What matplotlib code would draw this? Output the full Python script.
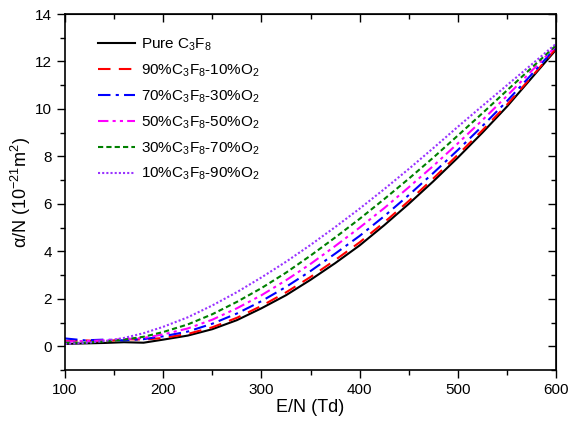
import numpy as np
import matplotlib.pyplot as plt

plt.rcParams['font.family'] = ['Liberation Sans', 'DejaVu Sans']
plt.rcParams['mathtext.default'] = 'regular'

en_td = [100, 120, 140, 160, 180, 200, 225, 250, 275, 300, 325, 350,
         375, 400, 425, 450, 475, 500, 525, 550, 575, 600]

pure = [0.10, 0.12, 0.14, 0.17, 0.15, 0.28, 0.45, 0.72, 1.10, 1.60, 2.15, 2.80,
        3.50, 4.25, 5.10, 6.00, 6.95, 7.95, 9.00, 10.10, 11.30, 12.50]
mix90 = [0.22, 0.25, 0.20, 0.30, 0.28, 0.35, 0.52, 0.80, 1.20, 1.70, 2.27, 2.92,
         3.63, 4.38, 5.22, 6.12, 7.07, 8.07, 9.10, 10.18, 11.35, 12.55]
mix70 = [0.33, 0.25, 0.28, 0.25, 0.30, 0.42, 0.62, 0.95, 1.38, 1.90, 2.50, 3.17,
         3.90, 4.65, 5.48, 6.37, 7.30, 8.27, 9.28, 10.33, 11.45, 12.60]
mix50 = [0.20, 0.22, 0.25, 0.30, 0.35, 0.50, 0.75, 1.12, 1.60, 2.15, 2.78, 3.47,
         4.22, 5.00, 5.82, 6.70, 7.60, 8.55, 9.53, 10.55, 11.60, 12.65]
mix30 = [0.15, 0.15, 0.20, 0.28, 0.40, 0.60, 0.92, 1.35, 1.87, 2.45, 3.10, 3.82,
         4.58, 5.37, 6.20, 7.06, 7.95, 8.88, 9.82, 10.78, 11.73, 12.68]
mix10 = [0.10, 0.14, 0.22, 0.35, 0.55, 0.82, 1.22, 1.72, 2.28, 2.90, 3.56, 4.27,
         5.02, 5.80, 6.62, 7.47, 8.35, 9.25, 10.13, 11.00, 11.87, 12.75]

series = [pure, mix90, mix70, mix50, mix30, mix10]
labels = ['Pure C$_3$F$_8$', '90%C$_3$F$_8$-10%O$_2$', '70%C$_3$F$_8$-30%O$_2$',
          '50%C$_3$F$_8$-50%O$_2$', '30%C$_3$F$_8$-70%O$_2$', '10%C$_3$F$_8$-90%O$_2$']
colors = ['black', 'red', 'blue', 'magenta', 'green', '#9933ff']
styles = ['-', (0, (6, 4)), (0, (6, 2.5, 1.5, 2.5)), (0, (5, 2, 1.5, 2, 1.5, 2)),
          (0, (2.5, 1.5)), (0, (1, 1))]

fig = plt.figure(figsize=(5.68, 4.25), dpi=100)
ax = fig.add_axes([0.1144, 0.1294, 0.8646, 0.8376])

for y, lab, c, ls in zip(series, labels, colors, styles):
    ax.plot(en_td, y, color=c, linestyle=ls, linewidth=1.5, label=lab)

ax.set_xlim(100, 600)
ax.set_ylim(-1, 14)
ax.set_xticks(np.arange(100, 601, 100))
ax.set_xticks(np.arange(150, 600, 100), minor=True)
ax.set_yticks(np.arange(0, 15, 2))
ax.set_yticks(np.arange(-1, 14, 2), minor=True)
ax.tick_params(which='major', direction='out', length=6, width=1, labelsize=11)
ax.tick_params(which='minor', direction='out', length=3.5, width=1)

# mirrored ticks pointing inward on top / right
top = ax.secondary_xaxis('top')
top.set_xticks(np.arange(100, 601, 100))
top.set_xticks(np.arange(150, 600, 100), minor=True)
top.tick_params(which='major', direction='in', length=6, width=1, labeltop=False)
top.tick_params(which='minor', direction='in', length=3.5, width=1)
right = ax.secondary_yaxis('right')
right.set_yticks(np.arange(0, 15, 2))
right.set_yticks(np.arange(-1, 14, 2), minor=True)
right.tick_params(which='major', direction='in', length=6, width=1, labelright=False)
right.tick_params(which='minor', direction='in', length=3.5, width=1)

for s in ax.spines.values():
    s.set_linewidth(1.2)

ax.set_xlabel('E/N (Td)', fontsize=13, labelpad=1)
ax.set_ylabel('\u03b1/N (10$^{-21}$m$^2$)', fontsize=13, labelpad=1)

ax.legend(loc='upper left', bbox_to_anchor=(0.04, 0.975), frameon=False,
          fontsize=11, handlelength=2.4, labelspacing=0.62, handletextpad=0.4)

fig.savefig('out.png', dpi=100)
